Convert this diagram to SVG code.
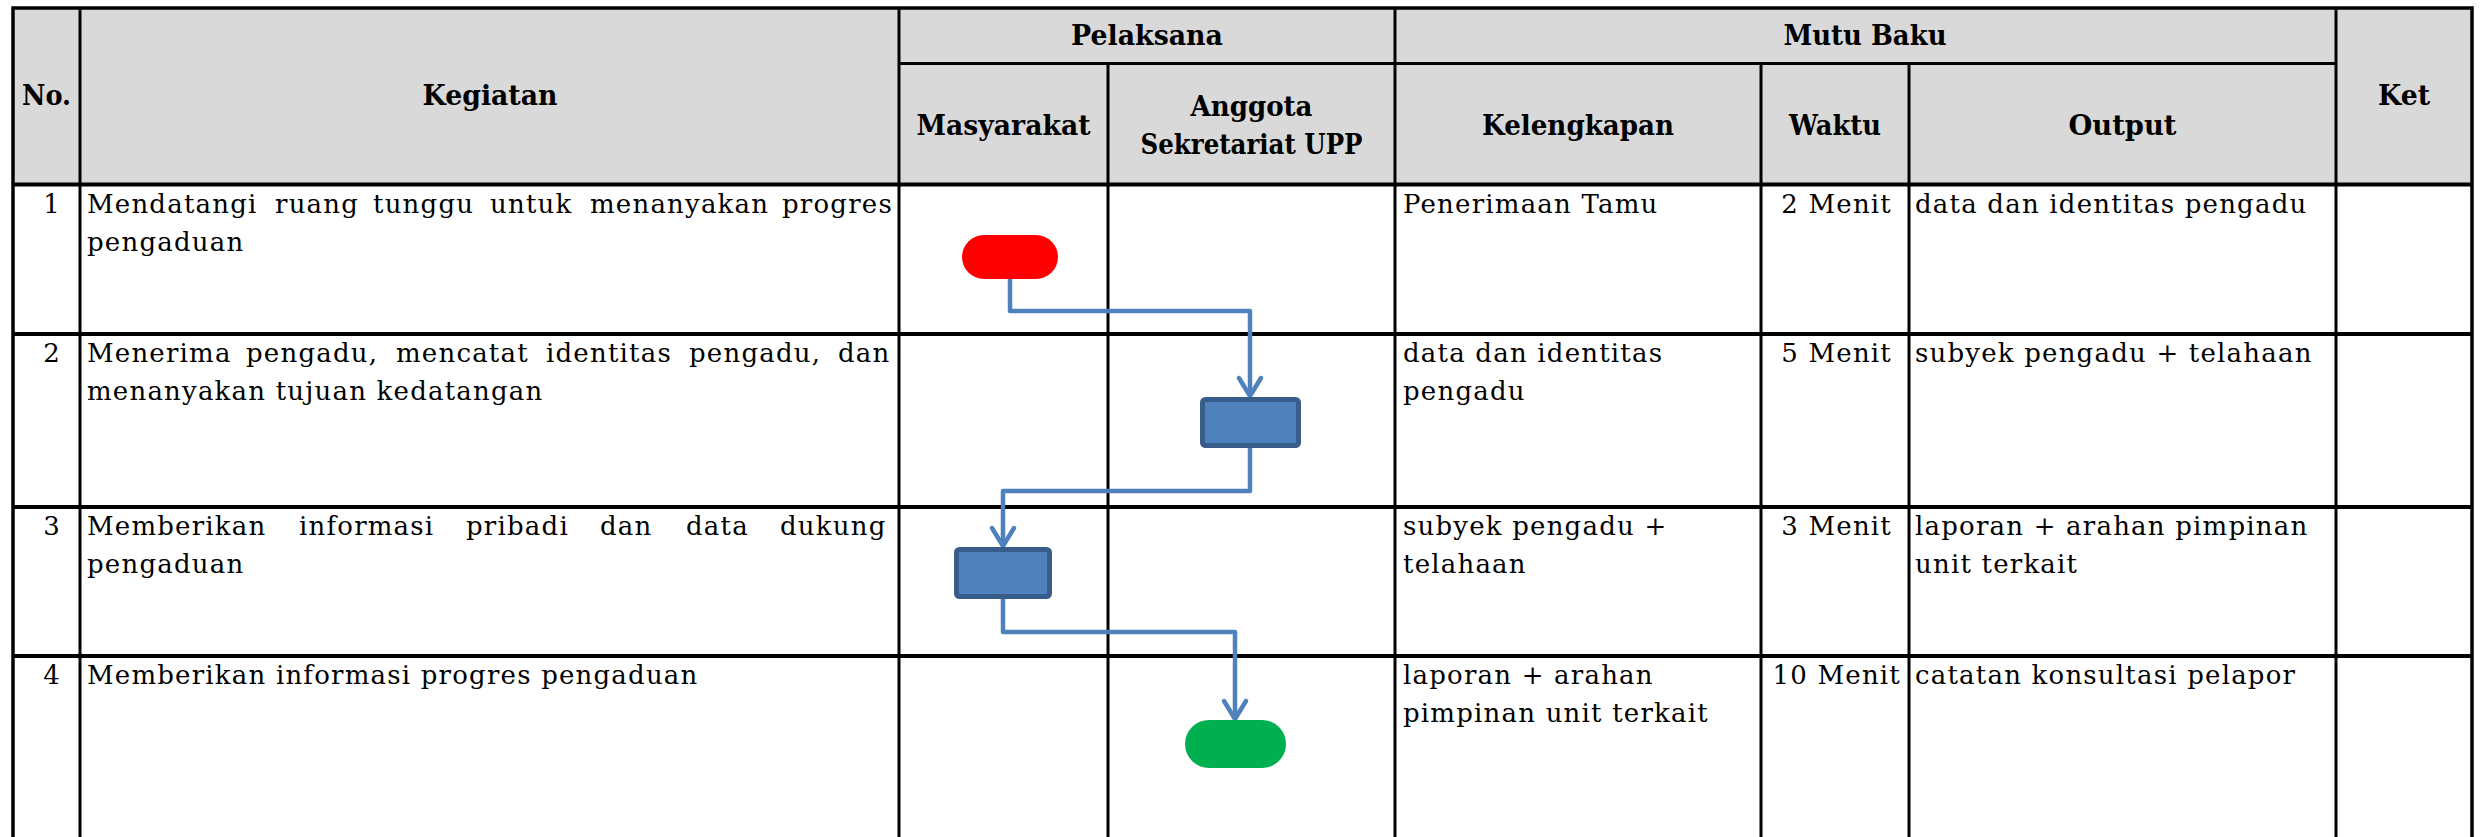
<svg xmlns="http://www.w3.org/2000/svg" width="2483" height="837" viewBox="0 0 2483 837">
<style>
.grid{stroke:#000;stroke-width:3;fill:none}
.thick{stroke:#000;stroke-width:4;fill:none}
.h{font-family:"DejaVu Serif","Liberation Serif",serif;font-weight:bold;font-size:27px;fill:#000;text-anchor:middle}
.t{font-family:"DejaVu Serif","Liberation Serif",serif;font-size:26px;fill:#000;letter-spacing:1.2px}
.r{text-anchor:end}
.conn{stroke:#4F81BD;stroke-width:4.5;fill:none;stroke-linejoin:round}
.proc{fill:#4F81BD;stroke:#385D8A;stroke-width:5}
</style>
<defs>
<marker id="arr" markerUnits="userSpaceOnUse" orient="auto" markerWidth="30" markerHeight="30" refX="0" refY="0" viewBox="-22 -15 26 30" overflow="visible">
<path d="M-18,-11 L0,0 L-18,11" fill="none" stroke="#4F81BD" stroke-width="4.5" stroke-linecap="round" stroke-linejoin="round"/>
</marker>
</defs>
<rect width="2483" height="837" fill="#fff"/>
<g id="table">
<rect x="13" y="8" width="2459" height="176" fill="#D9D9D9"/>
<path class="grid" d="M80,8V837M899,8V837M1395,8V837M2336,8V837M1108,63V837M1761,63V837M1909,63V837M899,63.5H2336"/>
<path class="thick" d="M13,184.5H2472M13,334H2472M13,507H2472M13,656H2472"/>
<path d="M13,837V8H2472V837" fill="none" stroke="#000" stroke-width="3.5"/>
</g>
<g id="header">
<text class="h" x="46.5" y="105" textLength="49" lengthAdjust="spacingAndGlyphs">No.</text>
<text class="h" x="490" y="105" textLength="135" lengthAdjust="spacingAndGlyphs">Kegiatan</text>
<text class="h" x="1147" y="45" textLength="152" lengthAdjust="spacingAndGlyphs">Pelaksana</text>
<text class="h" x="1865" y="45" textLength="163" lengthAdjust="spacingAndGlyphs">Mutu Baku</text>
<text class="h" x="1003.5" y="135" textLength="174" lengthAdjust="spacingAndGlyphs">Masyarakat</text>
<text class="h" x="1251.5" y="116" textLength="122" lengthAdjust="spacingAndGlyphs">Anggota</text>
<text class="h" x="1251.5" y="154" textLength="222" lengthAdjust="spacingAndGlyphs">Sekretariat UPP</text>
<text class="h" x="1578" y="135" textLength="192" lengthAdjust="spacingAndGlyphs">Kelengkapan</text>
<text class="h" x="1835" y="135" textLength="92" lengthAdjust="spacingAndGlyphs">Waktu</text>
<text class="h" x="2122.5" y="135" textLength="108" lengthAdjust="spacingAndGlyphs">Output</text>
<text class="h" x="2404" y="105" textLength="52" lengthAdjust="spacingAndGlyphs">Ket</text>
</g>
<g id="row1">
<text class="t r" x="61" y="213">1</text>
<text class="t" y="213"><tspan x="87">Mendatangi</tspan><tspan x="275">ruang</tspan><tspan x="373">tunggu</tspan><tspan x="490">untuk</tspan><tspan x="590">menanyakan</tspan><tspan x="782">progres</tspan></text>
<text class="t" x="87" y="251">pengaduan</text>
<text class="t" x="1403" y="213">Penerimaan Tamu</text>
<text class="t r" x="1892" y="213">2 Menit</text>
<text class="t" x="1915" y="213">data dan identitas pengadu</text>
</g>
<g id="row2">
<text class="t r" x="61" y="362">2</text>
<text class="t" y="362"><tspan x="87">Menerima</tspan><tspan x="246">pengadu,</tspan><tspan x="396">mencatat</tspan><tspan x="546">identitas</tspan><tspan x="689">pengadu,</tspan><tspan x="838">dan</tspan></text>
<text class="t" x="87" y="400">menanyakan tujuan kedatangan</text>
<text class="t" x="1403" y="362">data dan identitas</text>
<text class="t" x="1403" y="400">pengadu</text>
<text class="t r" x="1892" y="362">5 Menit</text>
<text class="t" x="1915" y="362">subyek pengadu + telahaan</text>
</g>
<g id="row3">
<text class="t r" x="61" y="535">3</text>
<text class="t" y="535"><tspan x="87">Memberikan</tspan><tspan x="299">informasi</tspan><tspan x="466">pribadi</tspan><tspan x="600">dan</tspan><tspan x="686">data</tspan><tspan x="780">dukung</tspan></text>
<text class="t" x="87" y="573">pengaduan</text>
<text class="t" x="1403" y="535">subyek pengadu +</text>
<text class="t" x="1403" y="573">telahaan</text>
<text class="t r" x="1892" y="535">3 Menit</text>
<text class="t" x="1915" y="535">laporan + arahan pimpinan</text>
<text class="t" x="1915" y="573">unit terkait</text>
</g>
<g id="row4">
<text class="t r" x="61" y="684">4</text>
<text class="t" x="87" y="684">Memberikan informasi progres pengaduan</text>
<text class="t" x="1403" y="684">laporan + arahan</text>
<text class="t" x="1403" y="722">pimpinan unit terkait</text>
<text class="t r" x="1901" y="684">10 Menit</text>
<text class="t" x="1915" y="684">catatan konsultasi pelapor</text>
</g>
<g id="connectors">
<path class="conn" d="M1010,279V311H1250V396" marker-end="url(#arr)"/>
<path class="conn" d="M1250,448V491H1003V546" marker-end="url(#arr)"/>
<path class="conn" d="M1003,599V632H1235V719" marker-end="url(#arr)"/>
</g>
<g id="start"><rect x="962" y="235" width="96" height="44" rx="22" fill="#FF0000"/></g>
<g id="step2"><rect class="proc" x="1202.5" y="399.5" width="96" height="46" rx="3"/></g>
<g id="step3"><rect class="proc" x="956.5" y="549.5" width="93" height="47" rx="3"/></g>
<g id="end"><rect x="1185" y="720" width="101" height="48" rx="24" fill="#00B050"/></g>
</svg>
